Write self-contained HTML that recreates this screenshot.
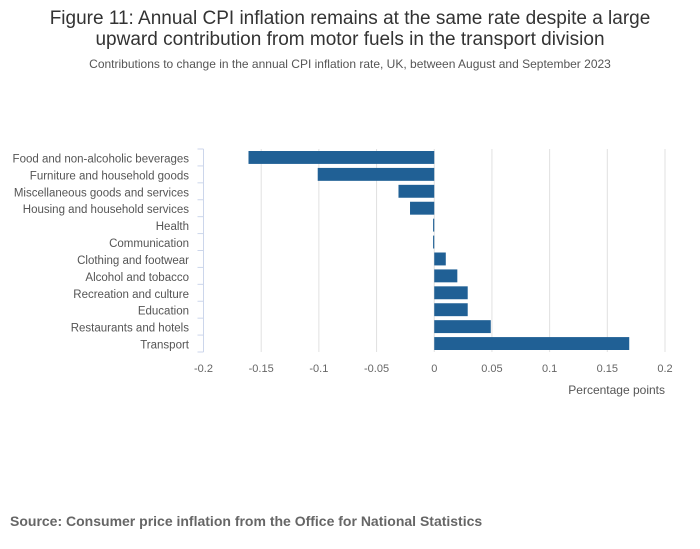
<!DOCTYPE html>
<html><head><meta charset="utf-8"><style>
body{margin:0;background:#fff;font-family:"Liberation Sans",sans-serif;}
#wrap{position:relative;width:700px;height:549px;overflow:hidden;}
.t{position:absolute;left:0;width:700px;text-align:center;color:#333;}
</style></head><body>
<div id="wrap">
<div class="t" style="top:8px;font-size:19px;line-height:21px;">Figure 11: Annual CPI inflation remains at the same rate despite a large<br>upward contribution from motor fuels in the transport division</div>
<div class="t" style="top:57px;font-size:12px;color:#555;">Contributions to change in the annual CPI inflation rate, UK, between August and September 2023</div>
<svg id="chart" width="700" height="549" style="position:absolute;left:0;top:0"></svg>
<div style="position:absolute;left:10px;top:513px;font-size:14px;font-weight:bold;color:#666;">Source: Consumer price inflation from the Office for National Statistics</div>
</div>
<script>
const categories=["Food and non-alcoholic beverages","Furniture and household goods","Miscellaneous goods and services","Housing and household services","Health","Communication","Clothing and footwear","Alcohol and tobacco","Recreation and culture","Education","Restaurants and hotels","Transport"];
const values=[-0.161,-0.101,-0.031,-0.021,-0.001,-0.001,0.01,0.02,0.029,0.029,0.049,0.169];
const ticks=[-0.2,-0.15,-0.1,-0.05,0,0.05,0.1,0.15,0.2];
const tickLabels=["-0.2","-0.15","-0.1","-0.05","0","0.05","0.1","0.15","0.2"];
const svg=document.getElementById('chart');
const NS='http://www.w3.org/2000/svg';
const x0=203.5,x1=665,yTop=149,yBot=352;
function xs(v){return x0+(v+0.2)/0.4*(x1-x0);}
const band=(yBot-yTop)/categories.length;
function ys(i){return yTop+i*band;}
function mk(t,a){const e=document.createElementNS(NS,t);for(const k in a)e.setAttribute(k,a[k]);svg.appendChild(e);return e;}
ticks.forEach((t,i)=>{
  if(t!==-0.2){const g=mk('line',{x1:xs(t),x2:xs(t),y1:yTop,y2:yBot,stroke:'#e0e0e0','stroke-width':1});
  
  }
  const l=mk('text',{x:xs(t),y:372,'text-anchor':'middle','font-size':11,fill:'#666','font-family':'Liberation Sans, sans-serif'});
  l.textContent=tickLabels[i];
  
  
});
const ax=mk('line',{x1:x0,x2:x0,y1:yTop,y2:yBot,stroke:'#ccd6eb','stroke-width':1});


for(let i=0;i<=categories.length;i++){
  const tk=mk('line',{x1:x0-6,x2:x0,y1:ys(i),y2:ys(i),stroke:'#ccd6eb','stroke-width':1});
  
  
}
categories.forEach((c,i)=>{
  const v=values[i];
  const a=Math.min(xs(v),xs(0)),w=Math.max(Math.abs(xs(v)-xs(0)),1);
  const r=mk('rect',{x:a,y:ys(i)+2,width:w,height:band-4,fill:'#206095'});
  
  
  const t=mk('text',{x:189,y:ys(i)+band/2+5,'text-anchor':'end','font-size':11.5,fill:'#555','font-family':'Liberation Sans, sans-serif'});
  t.textContent=c;
  
  
});
const xt=mk('text',{x:665,y:394,'text-anchor':'end','font-size':12,fill:'#555','font-family':'Liberation Sans, sans-serif'});
xt.textContent='Percentage points';


</script>
</body></html>
